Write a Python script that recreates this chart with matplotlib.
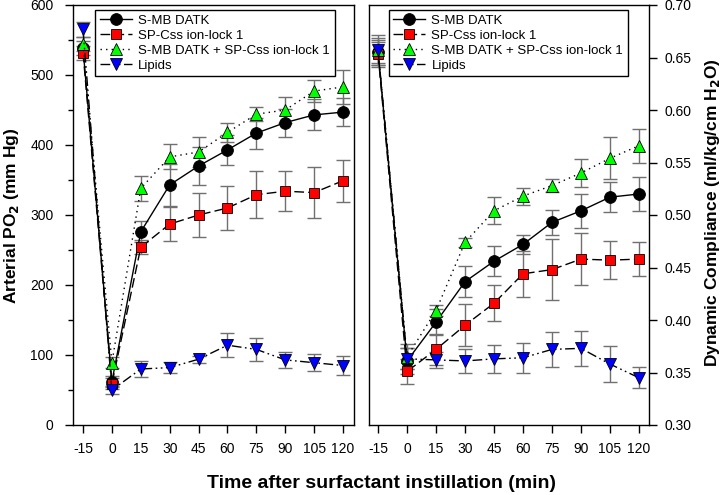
import matplotlib
matplotlib.use("Agg")
import matplotlib.pyplot as plt
from matplotlib.ticker import MultipleLocator
import numpy as np

plt.rcParams['font.family'] = ['Liberation Sans', 'DejaVu Sans']

time = [-15, 0, 15, 30, 45, 60, 75, 90, 105, 120]
xtick_labels = ['-15', '0', '15', '30', '45', '60', '75', '90', '105', '120']

series_names = ['S-MB DATK', 'SP-Css ion-lock 1', 'S-MB DATK + SP-Css ion-lock 1', 'Lipids']

# Arterial PO2 (mm Hg)
po2_smb = [538, 62, 276, 343, 370, 393, 417, 432, 443, 447]
po2_smb_err = [10, 8, 15, 30, 27, 22, 22, 20, 22, 20]
po2_spc = [532, 59, 254, 287, 300, 310, 329, 334, 332, 349]
po2_spc_err = [10, 8, 10, 24, 31, 32, 34, 29, 36, 30]
po2_combo = [544, 89, 338, 383, 390, 418, 444, 450, 477, 483]
po2_combo_err = [10, 8, 18, 18, 22, 14, 10, 19, 16, 24]
po2_lip = [565, 50, 80, 82, 94, 114, 108, 93, 89, 85]
po2_lip_err = [11, 6, 11, 8, 5, 17, 16, 12, 12, 13]

# Dynamic compliance (ml/kg/cm H2O)
cd_smb = [0.655, 0.361, 0.398, 0.4365, 0.456, 0.472, 0.493, 0.504, 0.517, 0.520]
cd_smb_err = [0.012, 0.012, 0.012, 0.015, 0.014, 0.009, 0.012, 0.016, 0.014, 0.016]
cd_spc = [0.653, 0.351, 0.372, 0.395, 0.416, 0.444, 0.448, 0.458, 0.457, 0.458]
cd_spc_err = [0.012, 0.012, 0.015, 0.020, 0.017, 0.022, 0.029, 0.025, 0.018, 0.016]
cd_combo = [0.657, 0.365, 0.409, 0.474, 0.504, 0.518, 0.528, 0.540, 0.554, 0.566]
cd_combo_err = [0.012, 0.012, 0.005, 0.004, 0.013, 0.008, 0.006, 0.013, 0.020, 0.016]
cd_lip = [0.657, 0.363, 0.362, 0.361, 0.363, 0.364, 0.372, 0.373, 0.358, 0.345]
cd_lip_err = [0.014, 0.010, 0.008, 0.011, 0.013, 0.014, 0.017, 0.017, 0.017, 0.010]

marker_faces = ['#000000', '#ff0000', '#00ff00', '#0000ff']
markers = ['o', 's', '^', 'v']
linestyles = ['-', (0, (7, 3)), (0, (1, 3)), (0, (7, 2.5, 1.2, 2.5, 1.2, 2.5))]

fig = plt.figure(figsize=(7.24, 4.95), dpi=100)
ax1 = fig.add_axes([73/724, 70/495, 281/724, 420/495])
ax2 = fig.add_axes([369/724, 70/495, 280/724, 420/495])


def draw(ax, ys, errs):
    for y, e in zip(ys, errs):
        ax.errorbar(time, y, yerr=e, fmt='none', ecolor='#707070',
                    elinewidth=1, capsize=5, capthick=1, zorder=2)
    for y, name, mfc, m, ls in zip(ys, series_names, marker_faces, markers, linestyles):
        ax.plot(time, y, color='black', lw=1, ls=ls, marker=m,
                mfc=mfc, mec='black', mew=0.6,
                ms=8.5 if m != 's' else 7.5, label=name, zorder=3)


draw(ax1, [po2_smb, po2_spc, po2_combo, po2_lip],
     [po2_smb_err, po2_spc_err, po2_combo_err, po2_lip_err])
draw(ax2, [cd_smb, cd_spc, cd_combo, cd_lip],
     [cd_smb_err, cd_spc_err, cd_combo_err, cd_lip_err])

for ax in (ax1, ax2):
    ax.set_xticks(time)
    ax.set_xticklabels(xtick_labels)
    ax.tick_params(axis='x', which='major', direction='out', length=5.5, width=1,
                   labelsize=10, pad=7)
    for s in ax.spines.values():
        s.set_linewidth(1)
    ax.legend(loc='upper left', bbox_to_anchor=(0.08 if ax is ax1 else 0.07, 0.988),
              borderaxespad=0, fontsize=9.5, frameon=True, fancybox=False,
              edgecolor='black', framealpha=1, handlelength=2.4,
              handletextpad=0.5, labelspacing=0.2, borderpad=0.35)

ax1.set_xlim(-20.2, 125.7)
ax1.set_ylim(0, 600)
ax1.set_yticks([0, 100, 200, 300, 400, 500, 600])
ax1.yaxis.set_minor_locator(MultipleLocator(50))
ax1.tick_params(axis='y', which='major', direction='out', length=6, width=1,
                labelsize=10, pad=8, right=False)
ax1.tick_params(axis='y', which='minor', direction='out', length=3.5, width=1, right=False)

ax2.set_xlim(-19.7, 125.2)
ax2.set_ylim(0.30, 0.70)
cd_ticks = [0.30, 0.35, 0.40, 0.45, 0.50, 0.55, 0.60, 0.65, 0.70]
ax2.set_yticks(cd_ticks)
ax2.set_yticklabels(['%.2f' % v for v in cd_ticks])
ax2.yaxis.tick_right()
ax2.tick_params(axis='y', direction='out', length=5.5, width=1, labelsize=10,
                pad=6, left=False)

fig.text(12/724, 1 - 216/495, 'Arterial PO$_\\mathbf{2}$ (mm Hg)', rotation=90,
         ha='center', va='center', fontsize=12.5, fontweight='bold')
fig.text(713/724, 1 - 213/495, 'Dynamic Compliance (ml/kg/cm H$_\\mathbf{2}$O)',
         rotation=90, ha='center', va='center', fontsize=12.5, fontweight='bold')
fig.text(381.5/724, 1 - 483/495, 'Time after surfactant instillation (min)',
         ha='center', va='center', fontsize=14, fontweight='bold')

fig.savefig('out.png', dpi=100)
